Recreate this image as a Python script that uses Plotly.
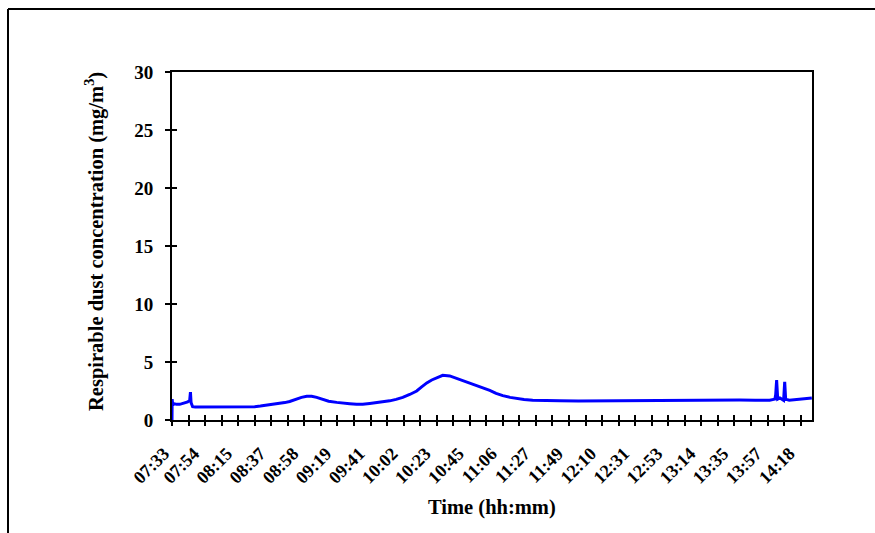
import plotly.graph_objects as go

# ---- data ----
# elapsed minutes since 07:33 and respirable dust concentration (mg/m3)
minutes = [0.0, 0.1, 0.45, 1.7, 3.0, 5.0, 6.5, 8.2, 10.1, 11.4, 11.9, 12.3, 13.3,
           15.0, 17.9, 22.0, 26.0, 30.8, 35.0, 40.0, 43.7, 48.0, 53.3, 57.0,
           59.8, 64.0, 67.5, 70.0, 72.7, 75.9, 78.0, 80.4, 83.5, 86.9, 90.1,
           93.3, 97.2, 101.0, 106.2, 110.0, 114.6, 119.0, 123.0, 127.5, 132.0,
           136.0, 140.4, 144.5, 148.8, 153.3, 157.8, 161.0, 164.3, 167.5, 170.7,
           174.6, 179.1, 183.0, 187.5, 192.0, 196.5, 200.5, 204.9, 209.0, 213.3,
           218.0, 222.3, 227.0, 232.6, 240.0, 250.0, 262.0, 275.8, 288.0, 301.6,
           314.0, 327.4, 340.0, 353.2, 366.0, 376.0, 385.4, 388.8, 389.3, 389.9,
           390.6, 392.0, 394.4, 395.1, 395.7, 398.0, 401.5, 404.5, 407.9, 410.5,
           412.6]
concentration = [0.0, 1.8, 1.3, 1.4, 1.35, 1.35, 1.4, 1.45, 1.55, 1.7, 2.4, 1.5, 1.15,
                 1.12, 1.12, 1.1, 1.12, 1.12, 1.1, 1.12, 1.12, 1.13, 1.15, 1.2,
                 1.25, 1.3, 1.4, 1.45, 1.5, 1.6, 1.7, 1.85, 1.95, 2.05, 2.05,
                 1.95, 1.75, 1.62, 1.52, 1.45, 1.4, 1.35, 1.35, 1.42, 1.5,
                 1.55, 1.65, 1.78, 1.95, 2.2, 2.5, 2.85, 3.2, 3.45, 3.65,
                 3.85, 3.8, 3.62, 3.4, 3.2, 3.0, 2.78, 2.55, 2.3, 2.1,
                 1.95, 1.85, 1.77, 1.7, 1.66, 1.65, 1.63, 1.65, 1.62, 1.65,
                 1.68, 1.7, 1.7, 1.72, 1.72, 1.7, 1.7, 1.8, 2.2, 3.45,
                 1.8, 1.9, 1.7, 3.3, 1.8, 1.7, 1.75, 1.8, 1.8, 1.85,
                 1.9]

tick_labels = ["07:33", "07:54", "08:15", "08:37", "08:58", "09:19", "09:41",
               "10:02", "10:23", "10:45", "11:06", "11:27", "11:49", "12:10",
               "12:31", "12:53", "13:14", "13:35", "13:57", "14:18"]
tick_step_min = 10.667          # minutes between tick marks
n_ticks = 39
x_max = 38.69 * tick_step_min

y_ticks = [0, 5, 10, 15, 20, 25, 30]

tick_positions = [i * tick_step_min for i in range(n_ticks)]
# label anchors (labels sit slightly left of every second tick, as in the source)
label_positions = [0.0] + [2 * k * tick_step_min - 2.0 for k in range(1, len(tick_labels))]

FONT = "Liberation Serif"

fig = go.Figure()
fig.add_trace(go.Scatter(x=minutes, y=concentration, mode="lines",
                         line=dict(color="#0000FF", width=3),
                         hoverinfo="skip", showlegend=False))
# helper traces for overlay axes (tick marks crossing the axis lines)
fig.add_trace(go.Scatter(x=[], y=[], xaxis="x2", yaxis="y2", showlegend=False))
fig.add_trace(go.Scatter(x=[], y=[], xaxis="x3", yaxis="y2", showlegend=False))

axis_common = dict(showgrid=False, zeroline=False)
tick_style = dict(ticklen=5, tickwidth=1.5, tickcolor="black")

fig.update_layout(
    width=875, height=533,
    margin=dict(l=172, r=63, t=72, b=113),
    paper_bgcolor="white", plot_bgcolor="white",
    font=dict(family=FONT, color="black"),
    xaxis=dict(range=[0, x_max], tickmode="array", tickvals=label_positions,
               ticktext=tick_labels, ticks="outside", ticklen=5,
               tickcolor="rgba(0,0,0,0)", tickangle=-45,
               tickfont=dict(family=FONT, size=18, color="black", weight="bold"),
               showline=True, linecolor="black", linewidth=2, mirror=True,
               ticklabelstandoff=9, ticklabelshift=-8, **axis_common),
    yaxis=dict(range=[0, 30], tickmode="array", tickvals=y_ticks,
               ticks="outside", **tick_style,
               tickfont=dict(family=FONT, size=19, color="black", weight="bold"),
               showline=True, linecolor="black", linewidth=2, mirror=True,
               ticklabelstandoff=8, **axis_common),
    xaxis2=dict(range=[0, x_max], overlaying="x", anchor="y", side="bottom",
                tickmode="array", tickvals=tick_positions, ticks="outside",
                **tick_style, showticklabels=False, showline=False, **axis_common),
    xaxis3=dict(range=[0, x_max], overlaying="x", anchor="y", side="bottom",
                tickmode="array", tickvals=tick_positions, ticks="inside",
                **tick_style, showticklabels=False, showline=False, **axis_common),
    yaxis2=dict(range=[0, 30], overlaying="y", anchor="x", side="left",
                tickmode="array", tickvals=y_ticks, ticks="inside",
                **tick_style, showticklabels=False, showline=False, **axis_common),
    annotations=[
        dict(text="<b>Time (hh:mm)</b>", xref="paper", yref="paper",
             x=0.5, y=1 - (507 - 72) / 348, showarrow=False,
             font=dict(family=FONT, size=20.5, color="black"),
             xanchor="center", yanchor="middle"),
        dict(text="<b>Respirable dust concentration (mg/m<sup>3</sup>)</b>",
             xref="paper", yref="paper",
             x=(94 - 172) / 640, y=1 - (242 - 72) / 348, showarrow=False,
             textangle=-90,
             font=dict(family=FONT, size=20.5, color="black"),
             xanchor="center", yanchor="middle"),
    ],
    shapes=[
        dict(type="line", xref="paper", yref="paper",
             x0=(8 - 172) / 640, x1=(880 - 172) / 640,
             y0=1 + (72 - 9) / 348, y1=1 + (72 - 9) / 348,
             line=dict(color="black", width=2)),
        dict(type="line", xref="paper", yref="paper",
             x0=(8 - 172) / 640, x1=(8 - 172) / 640,
             y0=1 + (72 - 9) / 348, y1=1 - (540 - 72) / 348,
             line=dict(color="black", width=2)),
    ],
)

fig.write_html("out.html")
